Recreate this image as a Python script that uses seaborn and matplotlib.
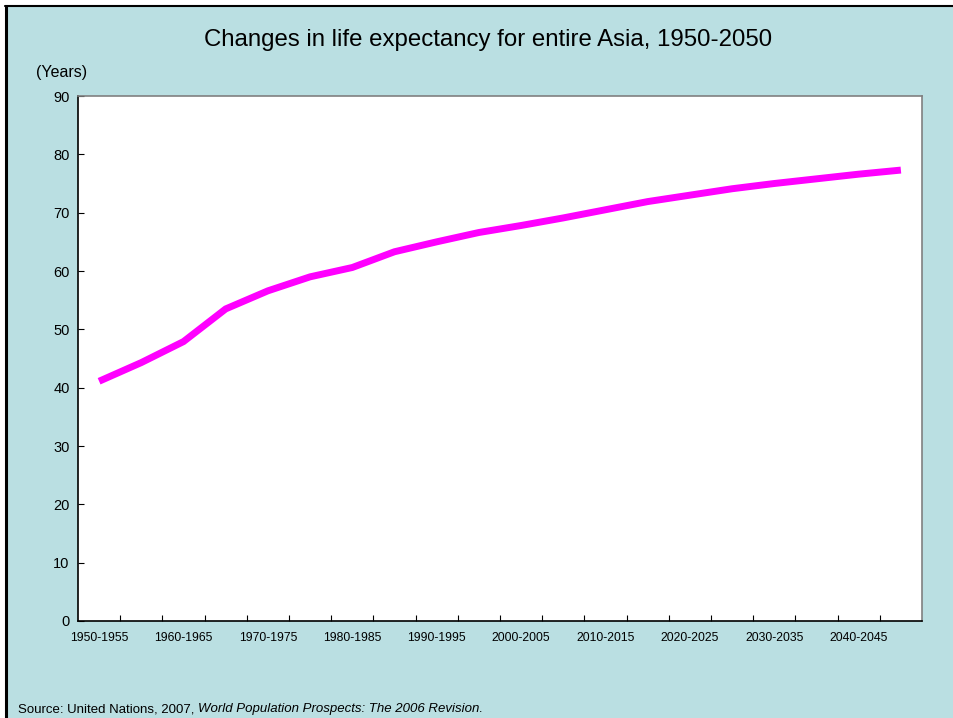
import matplotlib
matplotlib.use("Agg")
import matplotlib.pyplot as plt
from matplotlib.patches import Rectangle
from matplotlib.lines import Line2D
from matplotlib.ticker import FixedLocator
import seaborn as sns
import pandas as pd

# Five-year periods, 1950-2050
periods = [
    "1950-1955", "1955-1960", "1960-1965", "1965-1970", "1970-1975",
    "1975-1980", "1980-1985", "1985-1990", "1990-1995", "1995-2000",
    "2000-2005", "2005-2010", "2010-2015", "2015-2020", "2020-2025",
    "2025-2030", "2030-2035", "2035-2040", "2040-2045", "2045-2050",
]
# Life expectancy at birth, Asia (years)
life_expectancy = [
    41.1, 44.3, 47.9, 53.5, 56.6, 59.0, 60.6, 63.3, 65.0, 66.6,
    67.8, 69.1, 70.5, 71.9, 73.0, 74.1, 75.0, 75.8, 76.6, 77.3,
]
y_ticks = [0, 10, 20, 30, 40, 50, 60, 70, 80, 90]

df = pd.DataFrame({"period": periods, "years": life_expectancy})
df["pos"] = range(len(df))

sns.set_theme(style="white")
plt.rcParams["font.family"] = ["Liberation Sans", "DejaVu Sans"]

teal = "#BADFE2"
fig = plt.figure(figsize=(9.54, 7.18), dpi=100, facecolor="white")

# panel background and frame
W, H = 954, 718
fig.patches.append(Rectangle((6 / W, 0), 1 - 6 / W, 1 - 6 / H,
                             transform=fig.transFigure, facecolor=teal,
                             edgecolor="none", zorder=-10))
fig.lines.append(Line2D([6.5 / W, 6.5 / W], [0, 1 - 5.5 / H],
                        transform=fig.transFigure, color="black", lw=2.2))
fig.lines.append(Line2D([5.5 / W, 1], [1 - 5.5 / H, 1 - 5.5 / H],
                        transform=fig.transFigure, color="black", lw=1.5))

ax = fig.add_axes([78 / W, 1 - 621 / H, (922 - 78) / W, (621 - 96) / H])
ax.set_facecolor("white")

sns.lineplot(data=df, x="pos", y="years", ax=ax, color="#FF00FF",
             linewidth=5, solid_joinstyle="miter", solid_capstyle="butt")

ax.set_xlim(-0.5, len(periods) - 0.5)
ax.set_ylim(0, 90)
ax.set_yticks(y_ticks)
ax.set_yticklabels([str(v) for v in y_ticks], fontsize=10.5)

major = list(range(0, len(periods), 2))
ax.set_xticks(major)
ax.set_xticklabels([periods[i] for i in major], fontsize=8.8)
ax.xaxis.set_minor_locator(FixedLocator([i + 0.5 for i in range(len(periods) - 1)]))
ax.tick_params(axis="x", which="major", length=0, pad=8, colors="black")
ax.tick_params(axis="x", which="minor", length=4, width=0.8, direction="in",
               bottom=True, color="black")
ax.tick_params(axis="y", which="major", length=4, width=0.8, direction="in",
               left=True, pad=6, colors="black")
ax.set_xlabel("")
ax.set_ylabel("")
ax.grid(False)

for side in ("left", "bottom"):
    ax.spines[side].set_color("black")
    ax.spines[side].set_linewidth(1.2)
for side in ("top", "right"):
    ax.spines[side].set_color("#808080")
    ax.spines[side].set_linewidth(1.2)

fig.text(488 / W, 1 - 40 / H, "Changes in life expectancy for entire Asia, 1950-2050",
         ha="center", va="center", fontsize=17.3, color="black")
fig.text(62 / W, 1 - 73 / H, "(Years)", ha="center", va="center",
         fontsize=11.5, color="black")
fig.text(18 / W, 1 - 709 / H, "Source: United Nations, 2007, ",
         ha="left", va="center", fontsize=9.5, color="black")
src = fig.texts[-1]
fig.canvas.draw()
bb = src.get_window_extent()
fig.text(bb.x1 / W, 1 - 709 / H, "World Population Prospects: The 2006 Revision.",
         ha="left", va="center", fontsize=9.5, style="italic", color="black")

fig.savefig("out.png", dpi=100, facecolor=fig.get_facecolor())
